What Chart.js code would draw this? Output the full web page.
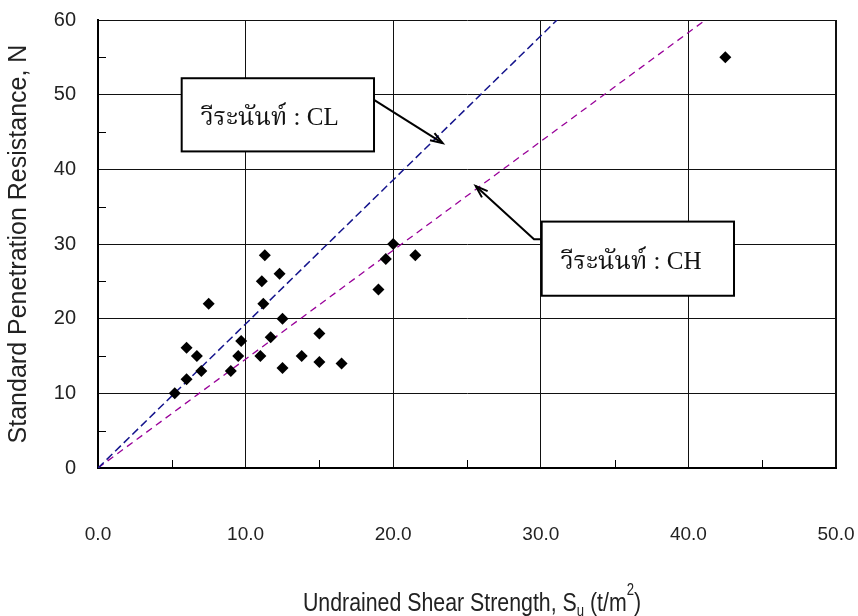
<!DOCTYPE html>
<html>
<head>
<meta charset="utf-8">
<script src="https://cdn.jsdelivr.net/npm/chart.js@4.4.0/dist/chart.umd.min.js"></script>
<style>
html, body { margin: 0; padding: 0; background: #fff; }
#wrap { width: 858px; height: 616px; }
</style>
</head>
<body>
<div id="wrap"><canvas id="sptChart" width="858" height="616"></canvas></div>
<script>
// measured points: undrained shear strength Su (t/m2) vs SPT N
const suValues = [5.2, 6.0, 6.0, 6.7, 7.0, 7.5, 9.0, 9.5, 9.7, 11.0, 11.1, 11.3, 11.2, 11.7, 12.3, 12.5, 12.5, 13.8, 15.0, 15.0, 16.5, 19.0, 19.5, 20.0, 21.5, 42.5];
const nValues = [10.0, 11.9, 16.1, 15.0, 13.0, 22.0, 13.0, 15.0, 17.0, 15.0, 25.0, 28.5, 22.0, 17.5, 26.0, 20.0, 13.4, 15.0, 18.0, 14.2, 14.0, 23.9, 28.0, 30.0, 28.5, 55.0];

// correlation lines (Weeranan) for CL and CH
const clLineSu = [0, 31.1];
const clLineN = [0, 60];
const chLineSu = [0, 41.15];
const chLineN = [0, 60];

const xTickValues = [0, 10, 20, 30, 40, 50];
const yTickValues = [0, 10, 20, 30, 40, 50, 60];
const minorStep = 5;

const clLabel = 'วีระนันท์ : CL';
const chLabel = 'วีระนันท์ : CH';

const toPoints = (xs, ys) => xs.map((x, i) => ({ x: x, y: ys[i] }));

// callout boxes, in axis units
const callouts = [
    { text: clLabel, box: [5.67, 52.2, 18.7, 42.4], arrow: [[18.7, 49.3], [23.35, 43.5]] },
    { text: chLabel, box: [30.06, 33.0, 43.09, 23.07], arrow: [[30.06, 30.63], [29.54, 30.63], [25.59, 37.77]] }
];

const overlayPlugin = {
    id: 'overlay',
    afterDraw(chart) {
        const ctx = chart.ctx;
        const xs = chart.scales.x;
        const ys = chart.scales.y;
        const area = chart.chartArea;

        // minor tick marks, pointing into the plot
        ctx.save();
        ctx.strokeStyle = '#000';
        ctx.lineWidth = 1;
        ctx.beginPath();
        for (let v = minorStep; v < 50; v += 2 * minorStep) {
            const px = Math.round(xs.getPixelForValue(v)) + 0.5;
            ctx.moveTo(px, area.bottom);
            ctx.lineTo(px, area.bottom - 8);
        }
        for (let v = minorStep; v < 60; v += 2 * minorStep) {
            const py = Math.round(ys.getPixelForValue(v)) + 0.5;
            ctx.moveTo(area.left, py);
            ctx.lineTo(area.left + 8, py);
        }
        ctx.stroke();
        ctx.restore();

        // callouts
        callouts.forEach(c => {
            const x0 = xs.getPixelForValue(c.box[0]);
            const y0 = ys.getPixelForValue(c.box[1]);
            const x1 = xs.getPixelForValue(c.box[2]);
            const y1 = ys.getPixelForValue(c.box[3]);

            ctx.save();
            ctx.strokeStyle = '#000';
            ctx.lineWidth = 2;
            ctx.beginPath();
            const pts = c.arrow.map(p => [xs.getPixelForValue(p[0]), ys.getPixelForValue(p[1])]);
            ctx.moveTo(pts[0][0], pts[0][1]);
            for (let i = 1; i < pts.length; i++) ctx.lineTo(pts[i][0], pts[i][1]);
            ctx.stroke();

            const tip = pts[pts.length - 1];
            const prev = pts[pts.length - 2];
            const ang = Math.atan2(tip[1] - prev[1], tip[0] - prev[0]);
            const len = 13;
            ctx.beginPath();
            ctx.moveTo(tip[0] - len * Math.cos(ang - 0.33), tip[1] - len * Math.sin(ang - 0.33));
            ctx.lineTo(tip[0], tip[1]);
            ctx.lineTo(tip[0] - len * Math.cos(ang + 0.33), tip[1] - len * Math.sin(ang + 0.33));
            ctx.stroke();

            ctx.fillStyle = '#fff';
            ctx.fillRect(x0, y0, x1 - x0, y1 - y0);
            ctx.strokeRect(x0, y0, x1 - x0, y1 - y0);

            ctx.fillStyle = '#111';
            ctx.font = "25px 'Liberation Serif', 'Noto Serif Thai', 'Noto Sans Thai', serif";
            ctx.textAlign = 'left';
            ctx.textBaseline = 'alphabetic';
            ctx.fillText(c.text, x0 + 19, (y0 + y1) / 2 + 10);
            ctx.restore();
        });

        // x axis title with subscript and superscript, condensed like the original
        const big = "26px 'Liberation Sans', sans-serif";
        const small = "16px 'Liberation Sans', sans-serif";
        const parts = [
            { t: 'Undrained Shear Strength, S', f: big, dy: 0 },
            { t: 'u', f: small, dy: 5 },
            { t: ' (t/m', f: big, dy: 0 },
            { t: '2', f: small, dy: -16 },
            { t: ')', f: big, dy: 0 }
        ];
        const squeeze = 0.82;
        ctx.save();
        ctx.fillStyle = '#222';
        ctx.textBaseline = 'alphabetic';
        ctx.textAlign = 'left';
        let total = 0;
        parts.forEach(p => { ctx.font = p.f; p.w = ctx.measureText(p.t).width; total += p.w; });
        const startX = (area.left + area.right) / 2 + 5 - total * squeeze / 2;
        ctx.translate(startX, 611);
        ctx.scale(squeeze, 1);
        let cx = 0;
        parts.forEach(p => {
            ctx.font = p.f;
            ctx.fillText(p.t, cx, p.dy);
            cx += p.w;
        });
        ctx.restore();
    }
};

const ctx = document.getElementById('sptChart').getContext('2d');
new Chart(ctx, {
    type: 'scatter',
    data: {
        datasets: [{
            label: 'Data',
            data: toPoints(suValues, nValues),
            pointStyle: 'rectRot',
            pointRadius: 6,
            pointHoverRadius: 6,
            backgroundColor: '#000',
            borderColor: '#000',
            borderWidth: 0
        }, {
            label: 'CL',
            data: toPoints(clLineSu, clLineN),
            showLine: true,
            pointRadius: 0,
            borderColor: '#14148c',
            borderWidth: 1.5,
            borderDash: [8, 4]
        }, {
            label: 'CH',
            data: toPoints(chLineSu, chLineN),
            showLine: true,
            pointRadius: 0,
            borderColor: '#990099',
            borderWidth: 1.3,
            borderDash: [7, 5]
        }]
    },
    options: {
        responsive: false,
        animation: false,
        layout: {
            padding: { top: 20, right: 22, left: 0, bottom: 0 }
        },
        scales: {
            x: {
                type: 'linear',
                min: 0,
                max: 50,
                afterFit: scale => { scale.height = 148; },
                afterBuildTicks: scale => { scale.ticks = xTickValues.map(v => ({ value: v })); },
                ticks: {
                    padding: 0,
                    color: '#222',
                    font: { family: "'Liberation Sans', sans-serif", size: 19 },
                    callback: v => v.toFixed(1)
                },
                grid: {
                    color: '#111',
                    lineWidth: c => (c.tick && c.tick.value === 50 ? 2 : 1),
                    drawTicks: true,
                    tickLength: 55,
                    tickColor: 'rgba(0,0,0,0)'
                },
                border: { color: '#000', width: 2 }
            },
            y: {
                type: 'linear',
                min: 0,
                max: 60,
                afterFit: scale => { scale.width = 98; },
                afterBuildTicks: scale => { scale.ticks = yTickValues.map(v => ({ value: v })); },
                ticks: {
                    padding: 0,
                    color: '#222',
                    font: { family: "'Liberation Sans', sans-serif", size: 20 }
                },
                grid: {
                    color: '#111',
                    lineWidth: 1,
                    drawTicks: true,
                    tickLength: 22,
                    tickColor: 'rgba(0,0,0,0)'
                },
                border: { color: '#000', width: 2 },
                title: {
                    display: true,
                    text: 'Standard Penetration Resistance, N',
                    color: '#222',
                    font: { family: "'Liberation Sans', sans-serif", size: 25 },
                    padding: { top: 4, bottom: 0 }
                }
            }
        },
        plugins: {
            legend: { display: false },
            tooltip: { enabled: false }
        }
    },
    plugins: [overlayPlugin]
});
</script>
</body>
</html>
